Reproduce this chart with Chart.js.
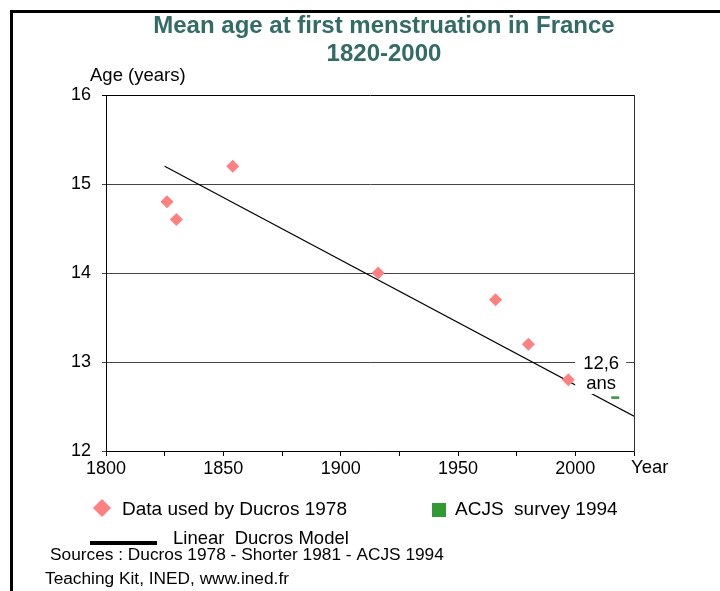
<!DOCTYPE html>
<html>
<head>
<meta charset="utf-8">
<script src="https://cdn.jsdelivr.net/npm/chart.js@4.4.1/dist/chart.umd.min.js"></script>
<style>
  html, body { margin: 0; padding: 0; background: #fff; }
  canvas { display: block; }
</style>
</head>
<body>
<canvas id="c" width="720" height="591"></canvas>
<script>
// ---- Data ----
const titleLines = ['Mean age at first menstruation in France', '1820-2000'];
const ducrosYears = [1826, 1830, 1854, 1916, 1966, 1980, 1997];
const ducrosAges  = [14.8, 14.6, 15.2, 14.0, 13.7, 13.2, 12.8];
const modelYears  = [1825, 2025];
const modelAges   = [15.2, 12.39];
const acjsYears   = [2017];
const acjsAges    = [12.6];
const yTicks = [12, 13, 14, 15, 16];
const xTickLabels = [1800, 1850, 1900, 1950, 2000];
const annotationText = ['12,6', 'ans'];
const annotationAnchor = { x: 2011, y: 13 };
const legendLabels = ['Data used by Ducros 1978', 'ACJS  survey 1994', 'Linear  Ducros Model'];
const notes = ['Sources : Ducros 1978 - Shorter 1981 - ACJS 1994', 'Teaching Kit, INED, www.ined.fr'];
const yAxisTitle = 'Age (years)';
const xAxisTitle = 'Year';

const FONT = '"Liberation Sans", Arial, Helvetica, sans-serif';
const PINK = '#ff8080';
const GREEN = '#339933';
const TEAL = '#336b66';

const extras = {
  id: 'extras',
  beforeDraw(chart) {
    const ctx = chart.ctx;
    ctx.save();
    ctx.fillStyle = '#fff';
    ctx.fillRect(0, 0, chart.width, chart.height);
    // outer frame (left and top)
    ctx.fillStyle = '#000';
    ctx.fillRect(10, 10, chart.width - 10, 3);
    ctx.fillRect(10, 10, 3, chart.height - 10);
    ctx.restore();
  },
  afterDatasetsDraw(chart) {
    const ctx = chart.ctx;
    const xs = chart.scales.x, ys = chart.scales.y;
    ctx.save();
    // annotation "12,6 ans" with white box
    const ax = xs.getPixelForValue(annotationAnchor.x);
    const ay = ys.getPixelForValue(annotationAnchor.y);
    ctx.fillStyle = '#fff';
    ctx.fillRect(ax - 26, ay - 11, 51, 43);
    ctx.fillStyle = '#000';
    ctx.font = '18.5px ' + FONT;
    ctx.textAlign = 'center';
    ctx.textBaseline = 'middle';
    ctx.fillText(annotationText[0], ax, ay + 2);
    ctx.fillText(annotationText[1], ax, ay + 22);
    ctx.restore();
  },
  afterDraw(chart) {
    const ctx = chart.ctx;
    const area = chart.chartArea;
    ctx.save();
    ctx.fillStyle = '#000';
    ctx.textBaseline = 'middle';
    ctx.textAlign = 'left';
    // axis titles
    ctx.font = '18.5px ' + FONT;
    ctx.fillText(yAxisTitle, 90, 76);
    ctx.fillText(xAxisTitle, area.right - 3, 468);
    // legend row 1
    ctx.fillStyle = PINK;
    ctx.beginPath();
    ctx.moveTo(102, 499); ctx.lineTo(111, 508); ctx.lineTo(102, 517); ctx.lineTo(93, 508);
    ctx.closePath(); ctx.fill();
    ctx.font = '19px ' + FONT;
    ctx.fillStyle = '#000';
    ctx.fillText(legendLabels[0], 122, 510);
    ctx.fillStyle = GREEN;
    ctx.fillRect(432, 503, 14, 14);
    ctx.fillStyle = '#000';
    ctx.fillText(legendLabels[1], 455, 510);
    // legend row 2
    ctx.fillRect(90, 541, 67, 4);
    ctx.font = '18.5px ' + FONT;
    ctx.fillText(legendLabels[2], 173, 539);
    // notes
    ctx.font = '17.3px ' + FONT;
    ctx.fillText(notes[0], 50, 555);
    ctx.fillText(notes[1], 45, 579);
    ctx.restore();
  }
};

new Chart(document.getElementById('c'), {
  type: 'scatter',
  data: {
    datasets: [
      {
        label: legendLabels[2],
        data: modelYears.map((x, i) => ({ x, y: modelAges[i] })),
        showLine: true,
        borderColor: '#000',
        borderWidth: 1.2,
        pointRadius: 0,
        fill: false,
        order: 3
      },
      {
        label: legendLabels[0],
        data: ducrosYears.map((x, i) => ({ x, y: ducrosAges[i] })),
        pointStyle: 'rectRot',
        pointRadius: 6.5,
        backgroundColor: PINK,
        borderColor: PINK,
        borderWidth: 0,
        order: 1
      },
      {
        label: legendLabels[1],
        data: acjsYears.map((x, i) => ({ x, y: acjsAges[i] })),
        pointStyle: 'line',
        pointRadius: 4,
        borderColor: GREEN,
        borderWidth: 2.5,
        order: 0
      }
    ]
  },
  options: {
    responsive: false,
    animation: false,
    layout: { padding: { left: 48, right: 0, top: 0, bottom: 110 } },
    plugins: {
      legend: { display: false },
      tooltip: { enabled: false },
      title: {
        display: true,
        text: titleLines,
        color: TEAL,
        font: { family: FONT, size: 24, weight: 'bold', lineHeight: 28 / 24 },
        padding: { top: 12, bottom: 27 }
      }
    },
    scales: {
      x: {
        type: 'linear',
        min: 1800, max: 2025,
        afterFit(s) { s.height = 30; },
        afterBuildTicks(s) {
          const t = [];
          for (let v = 1800; v <= 2025; v += 25) t.push({ value: v });
          s.ticks = t;
        },
        ticks: {
          autoSkip: false,
          maxRotation: 0,
          padding: 2,
          color: '#000',
          font: { family: FONT, size: 18 },
          callback: v => xTickLabels.includes(v) ? String(v) : ''
        },
        grid: { drawOnChartArea: false, drawTicks: true, tickLength: 5, color: '#000' },
        border: { display: true, color: '#000', width: 1 }
      },
      y: {
        type: 'linear',
        position: 'left',
        min: 12, max: 16,
        afterFit(s) { s.width = 58; },
        afterBuildTicks(s) { s.ticks = yTicks.map(v => ({ value: v })); },
        ticks: {
          padding: 11,
          color: '#000',
          font: { family: FONT, size: 18 }
        },
        grid: {
          drawTicks: true,
          tickLength: 4,
          color: ctx => (ctx.tick && ctx.tick.value === 16) ? '#000' : '#444',
          lineWidth: 1
        },
        border: { display: true, color: '#000', width: 1 }
      },
      yR: {
        type: 'linear',
        position: 'right',
        min: 12, max: 16,
        afterFit(s) { s.width = 86; },
        ticks: { display: false },
        grid: { display: true, drawOnChartArea: false, drawTicks: false },
        border: { display: true, color: '#333', width: 1 }
      }
    }
  },
  plugins: [extras]
});
</script>
</body>
</html>
